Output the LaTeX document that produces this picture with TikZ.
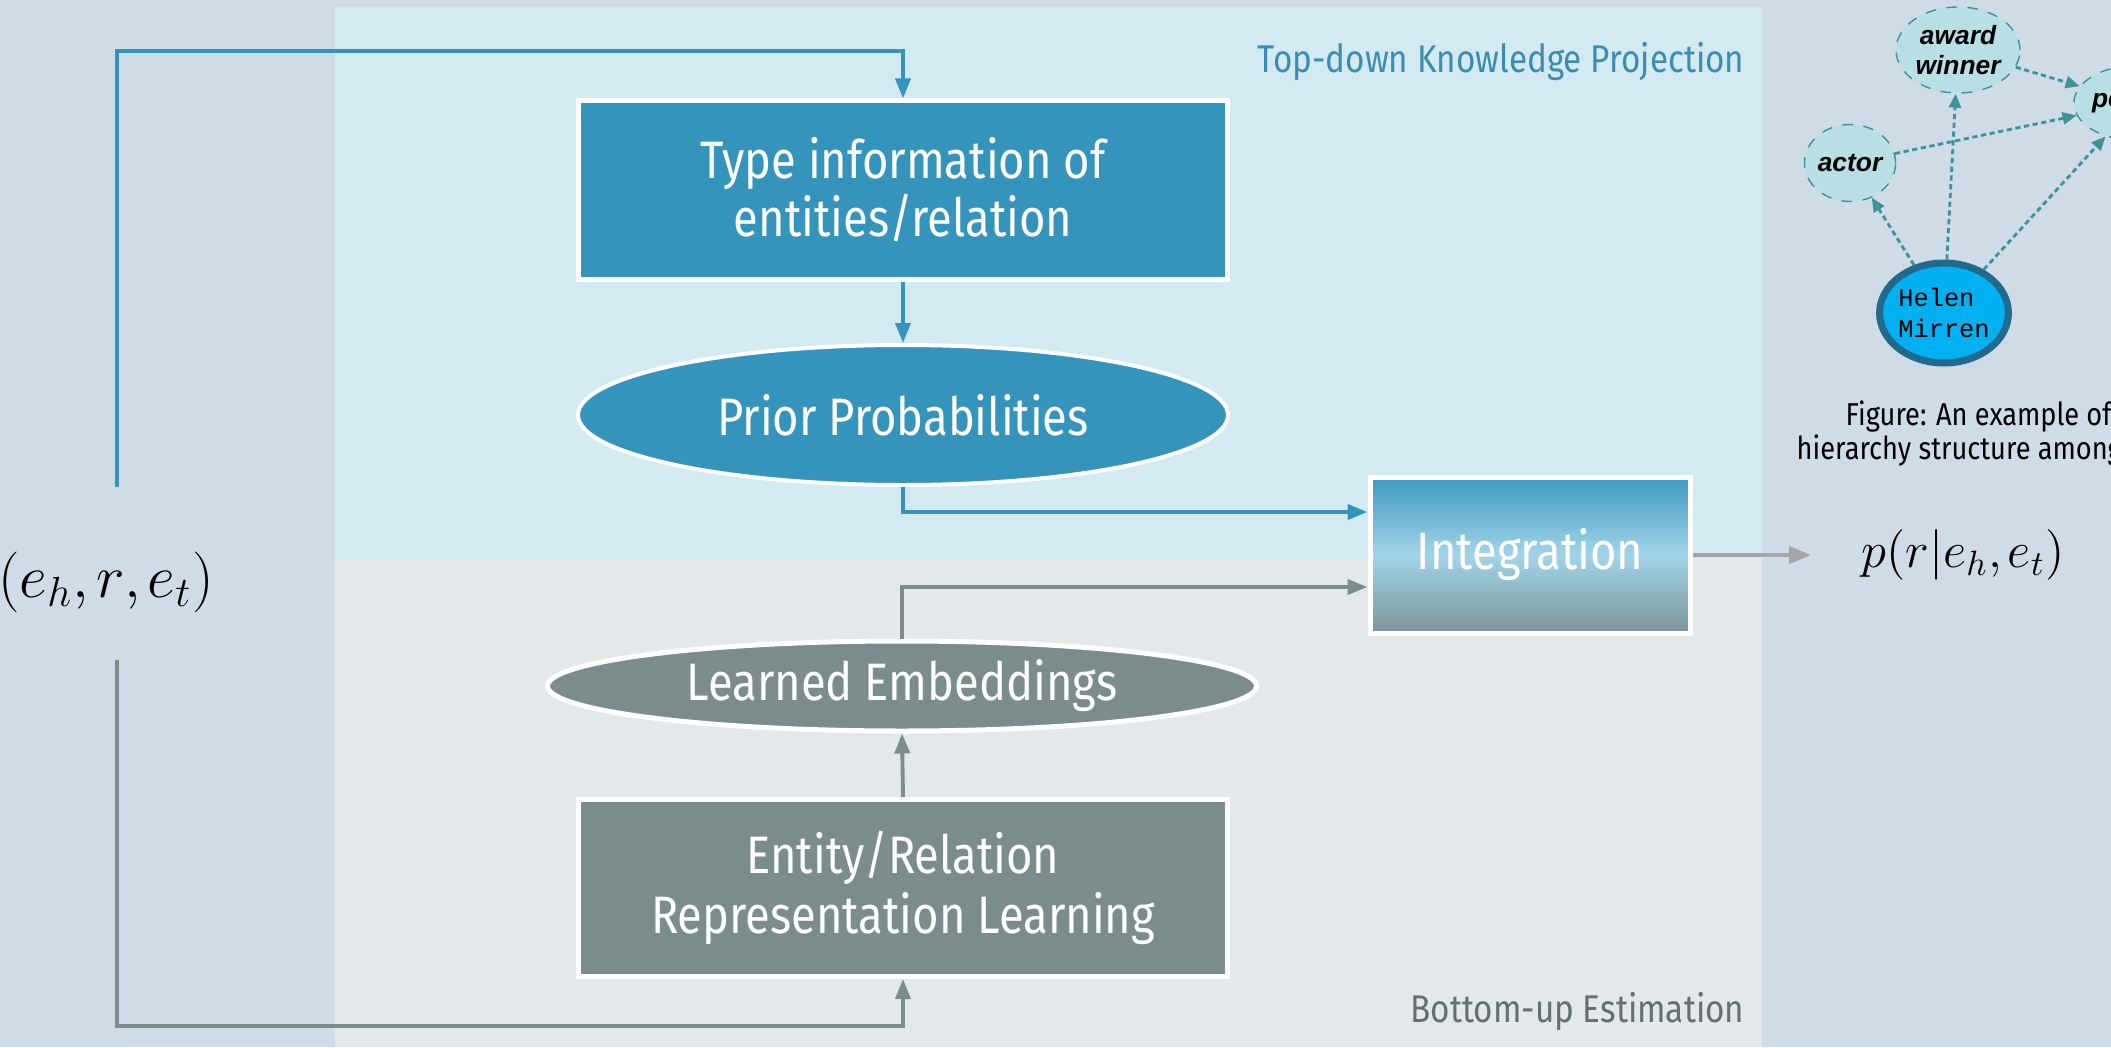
\documentclass[tikz,border=0pt]{standalone}
\usepackage{amsmath}
\usepackage{fontspec}
\setmainfont[FakeStretch=0.86]{Fira Sans}
\newfontfamily\arialfont{Liberation Sans}
\newfontfamily\courfont{Liberation Mono}
\usetikzlibrary{shapes.geometric,arrows.meta}

\definecolor{bgblue}{RGB}{207,219,230}
\definecolor{toppanel}{RGB}{212,234,242}
\definecolor{botpanel}{RGB}{227,232,234}
\definecolor{topblue}{RGB}{53,148,188}
\definecolor{botgrey}{RGB}{123,140,140}
\definecolor{outgrey}{RGB}{166,166,166}
\definecolor{intTop}{RGB}{62,152,192}
\definecolor{intMid}{RGB}{162,212,232}
\definecolor{intBot}{RGB}{123,149,152}
\definecolor{graphfill}{RGB}{184,224,228}
\definecolor{graphteal}{RGB}{62,147,153}
\definecolor{helenfill}{RGB}{0,176,240}
\definecolor{helenedge}{RGB}{33,106,140}
\definecolor{toplabel}{RGB}{58,141,176}
\definecolor{botlabel}{RGB}{100,112,112}

\begin{document}
\begin{tikzpicture}[
    blockbox/.style={rectangle, draw=white, line width=0.05cm, text=white, align=center, inner sep=0pt, font=\fontsize{15}{16.5}\selectfont},
    roundbox/.style={ellipse, draw=white, line width=0.04cm, text=white, inner sep=0pt, font=\fontsize{15}{16.5}\selectfont},
    typenode/.style={ellipse, draw=graphteal, dashed, line width=0.4pt, fill=graphfill, align=center, inner sep=0pt, font=\arialfont\bfseries\itshape\fontsize{7.5}{8.6}\selectfont},
    bluearrow/.style={draw=topblue, line width=1.1pt, -{Triangle[length=0.2cm,width=0.15cm]}},
    greyarrow/.style={draw=botgrey, line width=1.1pt, -{Triangle[length=0.2cm,width=0.15cm]}},
    typearrow/.style={draw=graphteal, line width=0.8pt, dash pattern=on 1.5pt off 1pt, -{Triangle[length=0.14cm,width=0.12cm]}}
  ]
       % background and the two panels
       \fill[bgblue] (0,0) rectangle (21.11,10.47);
       \useasboundingbox (0,0) rectangle (21.11,10.47);
       \fill[toppanel] (3.35,4.88) rectangle (17.62,10.40);
       \fill[botpanel] (3.35,0) rectangle (17.62,4.88);

       \node(TopLbl)[anchor=east, inner sep=0pt, text=toplabel, font=\fontsize{11}{13}\selectfont] at (17.45,9.85) {Top-down Knowledge Projection};
       \node(BotLbl)[anchor=east, inner sep=0pt, text=botlabel, font=\fontsize{11}{13}\selectfont] at (17.45,0.35) {Bottom-up Estimation};

       % main flow
       \node(Tuple)[inner sep=0pt] at (1.06,4.65) {\fontsize{16.5}{19}\selectfont $(e_h{,}\mkern2mu r{,}\mkern2mu e_t)$};
       \coordinate(TA) at (1.17,5.60);
       \coordinate(TB) at (1.17,3.87);
       \coordinate(TopTurn) at (9.03,9.96);
       \coordinate(BotTurn) at (9.03,0.21);

       \node(Type)[blockbox, fill=topblue, minimum width=6.49cm, minimum height=1.78cm] at (9.03,8.57) {Type information of\\entities/relation};
       \node(Prior)[roundbox, fill=topblue, minimum width=6.50cm, minimum height=1.40cm] at (9.03,6.32) {Prior Probabilities};

       \node(Integ)[blockbox, top color=intTop, bottom color=intBot, middle color=intMid, minimum width=3.20cm, minimum height=1.56cm] at (15.30,4.92) {Integration};

       \node(Learned)[roundbox, fill=botgrey, line width=0.05cm, minimum width=7.09cm, minimum height=0.90cm] at (9.02,3.61) {Learned Embeddings};
       \node(Entity)[blockbox, fill=botgrey, minimum width=6.49cm, minimum height=1.77cm, font=\fontsize{15}{17}\selectfont] at (9.03,1.59) {Entity/Relation\\Representation Learning};

       \node(Out)[inner sep=0pt] at (19.63,4.92) {\fontsize{14}{16}\selectfont $p(r|e_h{,}\mkern2mu e_t)$};
       \coordinate(OutTip) at (18.11,4.92);

       \draw[bluearrow] (TA) |- (TopTurn) -- (Type.north);
       \draw[bluearrow] (Type.south) -- (Prior.north);
       \draw[bluearrow] (Prior.south) |- ([yshift=0.43cm]Integ.west);

       \draw[greyarrow] (TB) |- (BotTurn) -- (Entity.south);
       \draw[greyarrow] (Entity.north) -- (Learned.south);
       \draw[greyarrow] (Learned.north) |- ([yshift=-0.32cm]Integ.west);

       \draw[draw=outgrey, line width=1.2pt, -{Triangle[length=0.22cm,width=0.17cm]}] (Integ.east) -- (OutTip);

       % type hierarchy example
       \node(Award)[typenode, minimum width=1.24cm, minimum height=0.86cm] at (19.58,9.97) {award\\winner};
       \node(Actor)[typenode, minimum width=0.85cm, minimum height=0.77cm] at (18.50,8.84) {actor};
       \node(Person)[typenode, minimum width=1.15cm, minimum height=0.75cm] at (21.36,9.44) {person};
       \node(Helen)[ellipse, draw=helenedge, line width=0.07cm, fill=helenfill, align=left, inner sep=0pt, minimum width=1.19cm, minimum height=1.00cm, font=\courfont\fontsize{7.2}{8.6}\selectfont] at (19.44,7.34) {Helen\\Mirren};

       \draw[typearrow] (Helen) -- (Actor);
       \draw[typearrow] (Helen) -- (Award);
       \draw[typearrow] (Helen) -- (Person);
       \draw[typearrow] (Award) -- (Person);
       \draw[typearrow] (Actor) -- (Person);

       \node(Cap1)[anchor=west, inner sep=0pt, font=\fontsize{9}{10.5}\selectfont] at (18.45,6.30) {Figure: An example of};
       \node(Cap2)[anchor=west, inner sep=0pt, font=\fontsize{9}{10.5}\selectfont] at (17.96,5.96) {hierarchy structure among};
     \end{tikzpicture}
\end{document}
